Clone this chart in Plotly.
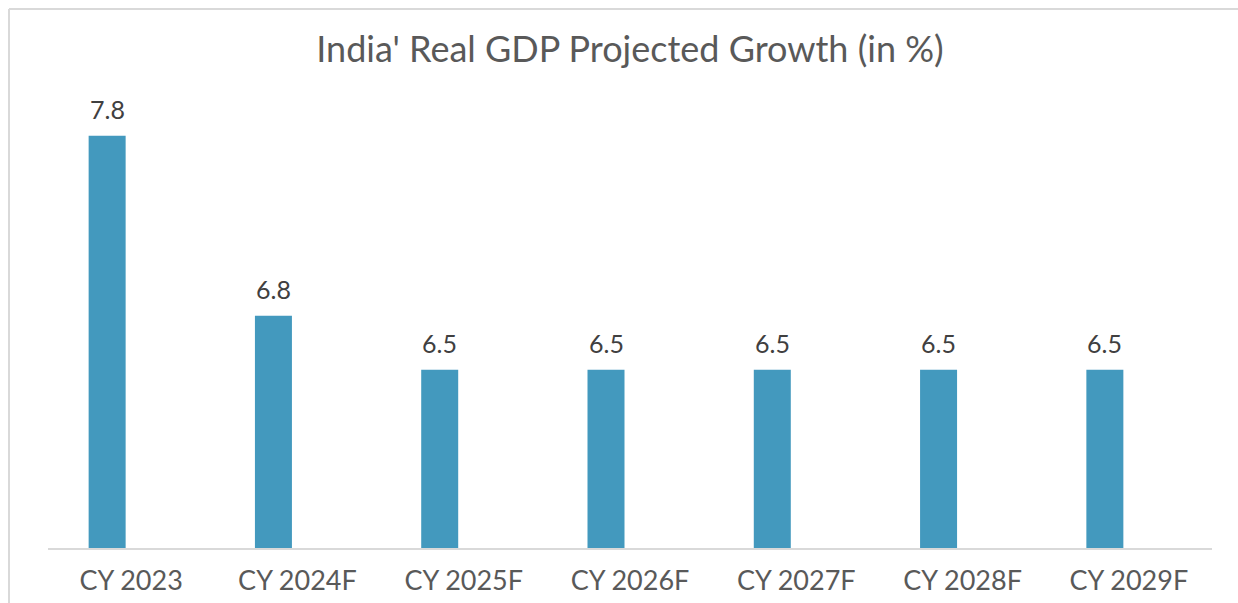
import plotly.graph_objects as go

categories = ["CY 2023", "CY 2024F", "CY 2025F", "CY 2026F", "CY 2027F", "CY 2028F", "CY 2029F"]
growth = [7.8, 6.8, 6.5, 6.5, 6.5, 6.5, 6.5]
labels = ["7.8", "6.8", "6.5", "6.5", "6.5", "6.5", "6.5"]

W, H = 1238, 603
L, R, T, B = 48, 26, 98, 55
pw, ph = W - L - R, H - T - B
cat_px = pw / len(categories)

BAR_W_PX = 37
BAR_SHIFT_PX = -24  # bar centre sits left of the category centre

def px_x(x):
    return (x - L) / pw

def px_y(y):
    return (H - B - y) / ph

FONT = "Lato, 'Open Sans', sans-serif"

fig = go.Figure()
fig.add_trace(go.Bar(
    x=categories, y=growth, marker=dict(color="#4399BE", line=dict(width=0)),
    width=BAR_W_PX / cat_px,
    offset=(BAR_SHIFT_PX - BAR_W_PX / 2) / cat_px,
    hoverinfo="x+y",
))

for c, v, t in zip(categories, growth, labels):
    fig.add_annotation(x=c, y=v, text=t, showarrow=False, yanchor="bottom",
                       xshift=BAR_SHIFT_PX, yshift=10,
                       font=dict(family=FONT, size=25, color="#404040"))

line_col = "#d9d9d9"
# chart border (top and left)
fig.add_shape(type="line", xref="paper", yref="paper", x0=px_x(9), x1=px_x(W + 5),
              y0=px_y(9), y1=px_y(9), line=dict(color=line_col, width=2))
fig.add_shape(type="line", xref="paper", yref="paper", x0=px_x(9), x1=px_x(9),
              y0=px_y(9), y1=px_y(H + 5), line=dict(color=line_col, width=2))

fig.update_layout(
    width=W, height=H,
    margin=dict(l=L, r=R, t=T, b=B, autoexpand=False),
    paper_bgcolor="white", plot_bgcolor="white",
    showlegend=False,
    title=dict(text="India' Real GDP Projected Growth (in %)", x=0.5, xref="paper",
               xanchor="center", y=1 - 49 / H, yanchor="middle", yref="container",
               font=dict(family=FONT, size=36, color="#595959")),
    xaxis=dict(showline=True, linecolor=line_col, linewidth=2, showgrid=False,
               zeroline=False, ticks="", ticklabelstandoff=8, automargin=False,
               tickfont=dict(family=FONT, size=27, color="#595959")),
    yaxis=dict(range=[5.51, 8.01], visible=False, showgrid=False, zeroline=False,
               automargin=False),
)

fig.write_html("out.html", config={"displayModeBar": False},
               post_script="document.body.style.margin='0';document.body.style.overflow='hidden';")
